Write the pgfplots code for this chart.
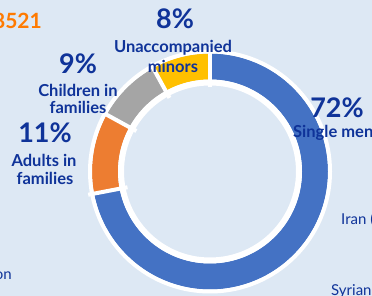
\documentclass[border=0pt]{standalone}
\usepackage{pgfplots}
\pgfplotsset{compat=1.18}
\usepackage{pgfplotstable}
\usepackage{fontspec}
\setmainfont{Lato}
\definecolor{bg}{HTML}{DDE8F4}
\definecolor{cblue}{HTML}{4472C4}
\definecolor{corange}{HTML}{ED7D31}
\definecolor{cgray}{HTML}{A5A5A5}
\definecolor{cyellow}{HTML}{FFC000}
\definecolor{txt}{HTML}{0F3399}
\definecolor{orng}{HTML}{FF7A00}

\pgfplotstableread{
label value color
Single 72 cblue
Adults 11 corange
Children 9 cgray
Minors 8 cyellow
}\donut

\begin{document}
\begin{tikzpicture}
\useasboundingbox (0,0) rectangle (372pt,296pt);
\clip (0,0) rectangle (372pt,296pt);
\fill[bg] (0,0) rectangle (372pt,296pt);
\begin{axis}[at={(0,0)}, anchor=south west, x=1pt, y=1pt,
  xmin=0, xmax=372, ymin=0, ymax=296, hide axis, clip=false, disabledatascaling]
\pgfplotsextra{%
 \coordinate (cen) at (axis cs:210,124.5);
 \gdef\angstart{90}%
 \pgfplotsforeachungrouped \i in {0,...,3}{%
   \pgfplotstablegetelem{\i}{value}\of\donut \let\segval\pgfplotsretval
   \pgfplotstablegetelem{\i}{color}\of\donut \let\segcol\pgfplotsretval
   \pgfmathsetmacro\angend{\angstart-3.6*\segval}%
   \fill[\segcol] (cen) ++(\angstart:118pt) arc[start angle=\angstart, end angle=\angend, radius=118pt]
      -- ++(\angend:-26pt) arc[start angle=\angend, end angle=\angstart, radius=92pt] -- cycle;
   \xdef\angstart{\angend}%
 }%
 \gdef\angstart{90}%
 \pgfplotsforeachungrouped \i in {0,...,3}{%
   \pgfplotstablegetelem{\i}{value}\of\donut \let\segval\pgfplotsretval
   \draw[white, line width=4pt] (cen) ++(\angstart:84pt) -- ++(\angstart:40pt);
   \pgfmathsetmacro\angend{\angstart-3.6*\segval}%
   \xdef\angstart{\angend}%
 }%
 \draw[white, line width=4pt] (cen) circle[radius=120pt];
 \draw[white, line width=6pt] (cen) circle[radius=89pt];
}
\node[txt, font=\bfseries\fontsize{27}{27}\selectfont] at (axis cs:175,277) {8\%};
\node[txt, font=\bfseries\fontsize{16.5}{16.5}\selectfont] at (axis cs:173,248.5) {Unaccompanied};
\node[txt, font=\bfseries\fontsize{16.5}{16.5}\selectfont] at (axis cs:173,230) {minors};
\node[txt, font=\bfseries\fontsize{27}{27}\selectfont] at (axis cs:78,232) {9\%};
\node[txt, font=\bfseries\fontsize{16.5}{16.5}\selectfont] at (axis cs:78,206) {Children in};
\node[txt, font=\bfseries\fontsize{16.5}{16.5}\selectfont] at (axis cs:78,189) {families};
\node[txt, font=\bfseries\fontsize{27}{27}\selectfont] at (axis cs:45,163) {11\%};
\node[txt, font=\bfseries\fontsize{16.5}{16.5}\selectfont] at (axis cs:44,136) {Adults in};
\node[txt, font=\bfseries\fontsize{16.5}{16.5}\selectfont] at (axis cs:45,118) {families};
\node[txt, font=\bfseries\fontsize{27}{27}\selectfont] at (axis cs:337,188) {72\%};
\node[txt, font=\bfseries\fontsize{16.5}{16.5}\selectfont, anchor=west, inner xsep=0pt] at (axis cs:293,163) {Single men};
\node[txt, font=\fontsize{15}{15}\selectfont, anchor=west, inner xsep=0pt] at (axis cs:341,76) {Iran (};
\node[txt, font=\fontsize{15}{15}\selectfont, anchor=west, inner xsep=0pt] at (axis cs:331,5) {Syrian};
\node[txt, font=\fontsize{15}{15}\selectfont, anchor=east, inner xsep=0pt] at (axis cs:12,20) {on};
\node[orng, font=\bfseries\fontsize{21}{21}\selectfont, anchor=east, inner xsep=0pt] at (axis cs:42,275) {8521};
\end{axis}
\end{tikzpicture}
\end{document}
